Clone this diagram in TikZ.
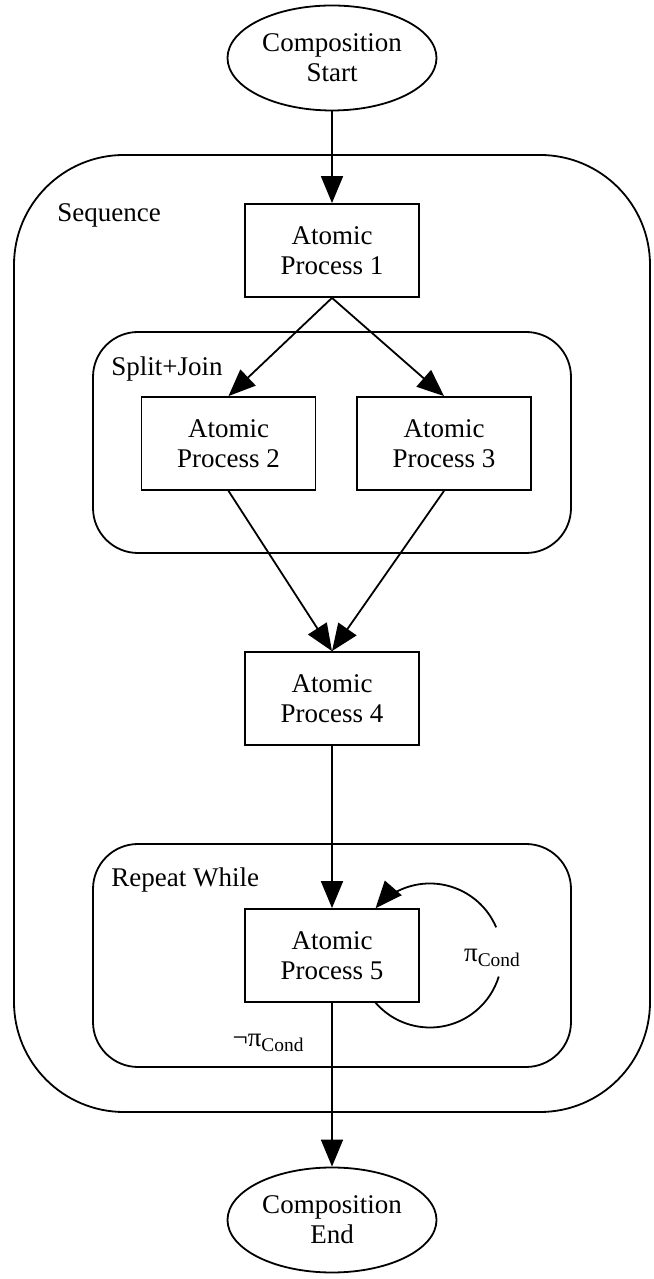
\documentclass[tikz,border=0pt]{standalone}
\usepackage{fontspec}
\setmainfont{Liberation Serif}
\newfontfamily\timesfont{Liberation Serif}
\usetikzlibrary{shapes.geometric,arrows.meta,calc}

\tikzset{
  lbl/.style={font=\timesfont\fontsize{13.5}{15}\selectfont, align=center, inner sep=0pt},
  proc/.style={lbl, draw, line width=0.9pt, minimum width=87pt, minimum height=46.5pt},
  term/.style={lbl, draw, ellipse, line width=0.9pt, minimum width=104.5pt, minimum height=52.5pt},
  cluster/.style={draw, line width=0.9pt},
  clabel/.style={lbl, anchor=base west},
  edge/.style={line width=0.9pt, -{Triangle[length=13.5pt,width=11pt]}},
  plain/.style={line width=0.9pt},
}
\newcommand{\subcond}{\raisebox{-0.4ex}{\fontsize{9.7}{11}\selectfont Cond}}

\begin{document}
\begin{tikzpicture}[x=0.5pt,y=0.5pt]
  \useasboundingbox (0,0) rectangle (653,1279);

  % composite constructs
  \draw[cluster, rounded corners=55pt] (14,167) rectangle (650,1124);
  \node[clabel] (seqlbl) at (57,1057) {Sequence};
  \draw[cluster, rounded corners=22.5pt] (93,726) rectangle (571,947);
  \node[clabel] (sjlbl) at (111,903) {Split+Join};
  \draw[cluster, rounded corners=22.5pt] (93,212) rectangle (571,435);
  \node[clabel] (rwlbl) at (111,392) {Repeat While};

  % processes
  \node[term] (start) at (332,1221) {Composition\\Start};
  \node[proc] (ap1) at (332,1028.5) {Atomic\\Process 1};
  \node[proc] (ap2) at (228.5,835.5) {Atomic\\Process 2};
  \node[proc] (ap3) at (444,835.5) {Atomic\\Process 3};
  \node[proc] (ap4) at (332,580.5) {Atomic\\Process 4};
  \node[proc] (ap5) at (332,323.5) {Atomic\\Process 5};
  \node[term] (end) at (332,59) {Composition\\End};

  % control flow
  \draw[edge] (start.south) -- (ap1.north);
  \draw[edge] (ap1.south) -- (ap2.north);
  \draw[edge] (ap1.south) -- (ap3.north);
  \draw[edge] (ap2.south) -- (ap4.north);
  \draw[edge] (ap3.south) -- (ap4.north);
  \draw[edge] (ap4.south) -- (ap5.north);
  \draw[edge] (ap5.south) -- (end.north);

  % loop of the repeat-while construct
  \coordinate (loopc) at ($(ap5.east)+(10,0)$);
  \coordinate (loopa) at ($(loopc)+(220:36pt)$);
  \coordinate (loopb) at ($(loopc)+(23:36pt)$);
  \draw[plain] (loopa) arc[start angle=220, end angle=343, radius=36pt];
  \draw[edge] (loopb) arc[start angle=23, end angle=139, radius=36pt];
  \node[lbl] (cond) at (492,321) {π\subcond};
  \node[lbl] (ncond) at (268,236) {¬π\subcond};
\end{tikzpicture}
\end{document}
